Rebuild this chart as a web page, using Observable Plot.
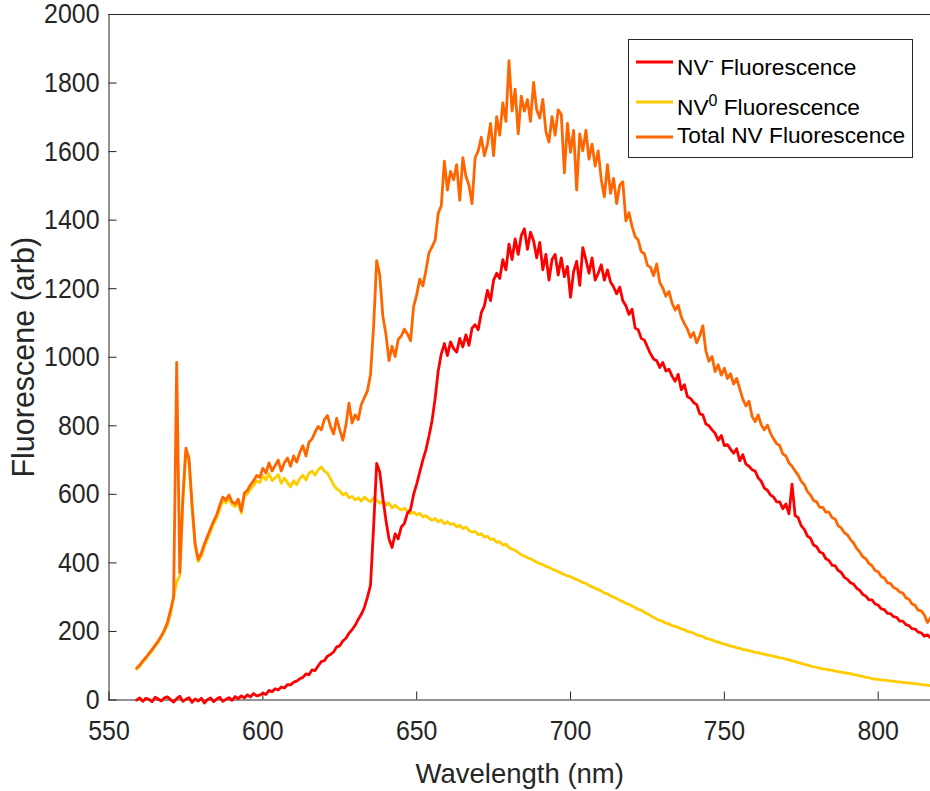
<!DOCTYPE html>
<html>
<head>
<meta charset="utf-8">
<script src="https://cdn.jsdelivr.net/npm/d3@7"></script>
<script src="https://cdn.jsdelivr.net/npm/@observablehq/plot@0.6"></script>
<style>
  html, body { margin: 0; padding: 0; background: #ffffff; }
  #chart svg { display: block; }
</style>
</head>
<body>
<div id="chart"></div>
<script>
// Wavelength grid (nm), 1 nm steps from 559 to 817
const wavelengths = d3.range(559, 818);

// NV- fluorescence (red)
const nvMinus = [
  0, 6, -4, 5, 2, -5, 8, 3, -3, 6,
  9, 1, -6, 4, 11, -4, 2, 7, -7, 3,
  -3, 5, -9, 1, 6, -5, 3, 8, -4, 2,
  7, -1, 10, 4, 12, 6, 15, 9, 19, 12,
  14, 20, 16, 28, 24, 33, 29, 38, 35, 45,
  44, 52, 55, 62, 66, 76, 74, 88, 86, 100,
  112, 115, 128, 133, 140, 155, 158, 172, 180, 195,
  205, 218, 235, 250, 270, 300, 335, 505, 690, 665,
  590, 525, 470, 445, 485, 470, 505, 515, 545, 555,
  600, 630, 665, 700, 730, 770, 815, 880, 960, 1010,
  1040, 1005, 1045, 1025, 1015, 1055, 1030, 1065, 1035, 1085,
  1095, 1080, 1130, 1150, 1195, 1165, 1225, 1245, 1230, 1285,
  1255, 1330, 1285, 1345, 1300, 1355, 1375, 1315, 1365, 1340,
  1290, 1335, 1255, 1300, 1225, 1285, 1300, 1240, 1290, 1235,
  1265, 1175, 1250, 1280, 1210, 1320, 1285, 1245, 1290, 1225,
  1245, 1270, 1225, 1255, 1220, 1205, 1185, 1205, 1165, 1150,
  1125, 1140, 1085, 1080, 1055, 1050, 1030, 1010, 995, 990,
  970, 985, 960, 965, 945, 930, 950, 905, 920, 885,
  880, 868, 862, 835, 832, 805, 800, 788, 778, 758,
  772, 742, 745, 732, 720, 733, 698, 716, 688, 682,
  672, 668, 648, 638, 618, 612, 598, 592, 578, 578,
  558, 572, 543, 630, 538, 532, 508, 498, 478, 472,
  452, 447, 432, 428, 412, 407, 393, 392, 378, 372,
  358, 352, 342, 338, 326, 320, 308, 303, 292, 292,
  280, 277, 266, 264, 253, 252, 243, 241, 230, 230,
  220, 217, 208, 207, 198, 196, 186, 190, 182
];

// NV0 fluorescence (yellow)
const nvZero = [
  90, 99, 111, 121, 133, 144, 157, 169, 184, 200,
  220, 250, 300, 345, 362, 578, 725, 695, 560, 448,
  404, 420, 448, 470, 492, 514, 532, 558, 582, 575,
  590, 570, 564, 578, 545, 595, 602, 616, 626, 640,
  634, 655, 642, 660, 640, 648, 658, 632, 648, 634,
  622, 640, 628, 646, 656, 642, 662, 668, 656, 672,
  680, 668, 662, 645, 628, 616, 610, 598, 604, 590,
  594, 584, 590, 580, 592, 584, 578, 590, 584, 574,
  580, 568, 575, 560, 568, 560, 554, 560, 550, 544,
  548, 540, 545, 534, 538, 530, 524, 530, 520, 525,
  514, 520, 512, 515, 505, 510, 500, 505, 494, 490,
  492, 482, 485, 475, 478, 468, 470, 460, 462, 452,
  455, 445, 440, 437, 430, 424, 420, 415, 412, 407,
  402, 398, 395, 390, 387, 382, 378, 375, 370, 366,
  362, 360, 355, 352, 347, 343, 340, 334, 330, 326,
  322, 318, 312, 310, 304, 300, 296, 291, 287, 282,
  279, 274, 270, 264, 262, 256, 252, 246, 241, 236,
  232, 229, 224, 222, 217, 215, 212, 207, 205, 200,
  198, 195, 190, 188, 185, 180, 178, 175, 171, 169,
  166, 163, 161, 157, 156, 152, 151, 147, 146, 144,
  142, 139, 138, 135, 134, 131, 130, 127, 126, 123,
  122, 119, 117, 114, 112, 109, 107, 104, 102, 99,
  97, 95, 93, 91, 90, 87, 87, 84, 83, 81,
  80, 78, 77, 74, 73, 70, 69, 66, 65, 62,
  61, 60, 59, 57, 57, 55, 55, 53, 53, 51,
  51, 49, 49, 47, 47, 45, 44, 43, 42
];

// Total NV fluorescence (orange)
const nvTotal = [
  93, 102, 114, 124, 136, 147, 160, 172, 187, 204,
  226, 262, 300, 985, 372, 590, 735, 705, 570, 455,
  410, 428, 455, 478, 500, 522, 540, 568, 592, 583,
  598, 578, 572, 586, 552, 604, 612, 628, 640, 655,
  650, 676, 662, 692, 668, 684, 700, 668, 692, 706,
  682, 712, 694, 722, 742, 712, 752, 762, 782, 798,
  788, 818, 830, 798, 776, 822, 788, 758, 802, 866,
  808, 832, 818, 862, 882, 902, 950, 1090, 1282, 1240,
  1120, 1068, 990, 1032, 1002, 1052, 1062, 1082, 1068, 1048,
  1148, 1182, 1228, 1208, 1252, 1305, 1322, 1342, 1420, 1442,
  1572, 1488, 1542, 1518, 1562, 1458, 1582, 1528, 1502, 1448,
  1582, 1602, 1642, 1588, 1622, 1682, 1588, 1702, 1648, 1742,
  1688, 1865, 1718, 1782, 1652, 1762, 1718, 1752, 1688, 1802,
  1722, 1698, 1752, 1658, 1628, 1702, 1648, 1722, 1708, 1538,
  1682, 1598, 1662, 1488, 1652, 1602, 1662, 1578, 1622, 1558,
  1602, 1518, 1468, 1562, 1478, 1522, 1448, 1502, 1512, 1398,
  1422, 1382, 1352, 1342, 1308, 1302, 1268, 1262, 1238, 1272,
  1218, 1202, 1178, 1192, 1158, 1138, 1152, 1118, 1098, 1082,
  1058, 1072, 1042, 1062, 1092, 1018, 988, 1002, 958, 978,
  948, 968, 938, 952, 922, 938, 908, 878, 858, 872,
  828, 812, 832, 802, 788, 802, 778, 762, 748, 742,
  718, 712, 692, 682, 668, 656, 638, 628, 608, 598,
  582, 578, 562, 562, 548, 548, 532, 528, 508, 502,
  488, 482, 468, 458, 442, 432, 418, 412, 398, 392,
  378, 374, 360, 356, 342, 340, 328, 324, 315, 312,
  298, 294, 280, 276, 262, 260, 248, 226, 240
];

const xTicks = [550, 600, 650, 700, 750, 800];
const yTicks = [0, 200, 400, 600, 800, 1000, 1200, 1400, 1600, 1800, 2000];

const seriesColors = { minus: "#ff0000", zero: "#ffcc00", total: "#ff6600" };
const legendItems = [
  { base: "NV", sup: "-", rest: " Fluorescence", color: seriesColors.minus },
  { base: "NV", sup: "0", rest: " Fluorescence", color: seriesColors.zero },
  { base: "Total NV Fluorescence", sup: "", rest: "", color: seriesColors.total }
];

const toRows = (vals) => wavelengths.map((w, i) => ({ w, v: vals[i] }));
const zeroRows = toRows(nvZero);
const minusRows = toRows(nvMinus);
const totalRows = toRows(nvTotal);

const labelFont = "Arial, 'Liberation Sans', Helvetica, sans-serif";
const axisColor = "#262626";

const chart = Plot.plot({
  width: 930,
  height: 791,
  marginLeft: 108.5,
  marginRight: 0,
  marginTop: 14,
  marginBottom: 91.5,
  style: { fontFamily: labelFont, color: axisColor, background: "#ffffff", overflow: "visible" },
  x: { domain: [550, 817] },
  y: { domain: [0, 2000] },
  marks: [
    Plot.frame({ anchor: "top", stroke: axisColor }),
    Plot.frame({ anchor: "left", stroke: axisColor }),
    Plot.frame({ anchor: "bottom", stroke: axisColor }),
    Plot.axisX({ ticks: xTicks, tickSize: -8, tickPadding: 28, fontSize: 28, label: null, tickFormat: d => String(d) }),
    Plot.axisX({ ticks: [], label: "Wavelength (nm)", labelAnchor: "center", labelArrow: "none", labelOffset: 83, fontSize: 27.5 }),
    Plot.axisY({ ticks: yTicks, tickSize: -8, tickPadding: 17.5, fontSize: 28, label: null, tickFormat: d => String(d) }),
    Plot.axisY({ ticks: [], label: "Fluorescene (arb)", labelAnchor: "center", labelArrow: "none", labelOffset: 97, fontSize: 30.5 }),
    Plot.line(zeroRows, { x: "w", y: "v", stroke: seriesColors.zero, strokeWidth: 2.8, strokeLinejoin: "round" }),
    Plot.line(minusRows, { x: "w", y: "v", stroke: seriesColors.minus, strokeWidth: 2.8, strokeLinejoin: "round" }),
    Plot.line(totalRows, { x: "w", y: "v", stroke: seriesColors.total, strokeWidth: 2.8, strokeLinejoin: "round" })
  ]
});

document.getElementById("chart").appendChild(chart);

const svg = d3.select(chart);

// Narrow the tick-label digits horizontally, as in the reference
svg.selectAll('[aria-label="x-axis tick label"] text, [aria-label="y-axis tick label"] text')
  .each(function () {
    const t = this.getAttribute("transform") || "";
    this.setAttribute("transform", t + " scale(0.89,1)");
  });

// Legend box inside the plot (upper right)
const lg = svg.append("g")
  .attr("font-family", labelFont)
  .attr("font-size", 22.7)
  .attr("text-anchor", "start")
  .attr("fill", "#000");
lg.append("rect")
  .attr("x", 628.5).attr("y", 39.5)
  .attr("width", 284).attr("height", 118)
  .attr("fill", "#ffffff").attr("stroke", axisColor).attr("stroke-width", 1);
const rowLineY = [62, 102, 137];
const rowTextY = [75, 115, 143];
legendItems.forEach((it, i) => {
  lg.append("line")
    .attr("x1", 636).attr("x2", 673)
    .attr("y1", rowLineY[i]).attr("y2", rowLineY[i])
    .attr("stroke", it.color).attr("stroke-width", 2.8);
  const t = lg.append("text").attr("x", 677).attr("y", rowTextY[i]).attr("text-anchor", "start");
  t.append("tspan").text(it.base);
  if (it.sup) {
    t.append("tspan").attr("dy", -9).attr("font-size", 16).text(it.sup);
    t.append("tspan").attr("dy", 9).text(it.rest);
  }
});
</script>
</body>
</html>
